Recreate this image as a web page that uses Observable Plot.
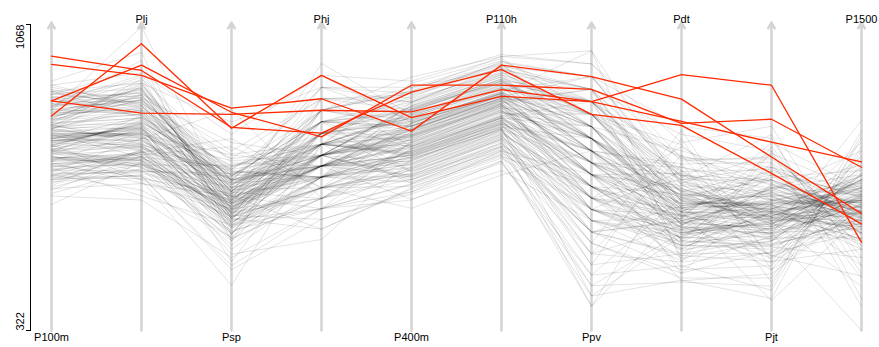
<!DOCTYPE html>
<html><head><meta charset="utf-8">
<script src="https://cdn.jsdelivr.net/npm/d3@7"></script>
<script src="https://cdn.jsdelivr.net/npm/@observablehq/plot@0.6"></script>
<style>body{margin:0;background:#fff} svg{display:block}</style>
</head><body><div id="chart"></div>
<script>
const events = ["P100m","Plj","Psp","Phj","P400m","P110h","Ppv","Pdt","Pjt","P1500"];
const topLabels = ["Plj","Phj","P110h","Pdt","P1500"];
const bottomLabels = ["P100m","Psp","P400m","Ppv","Pjt"];
const yTicks = [322, 1068];

// gray athletes (one array per event, same athlete order)
const P100m = [880,845,910,830,862,905,818,874,851,893,836,868,921,842,859,887,812,899,871,848,834,906,865,823,889,857,915,840,876,829,861,897,815,884,853,870,838,902,866,826,
795,812,768,803,781,824,756,799,787,772,810,793,765,829,784,801,776,815,762,790,806,773,797,819,759,788,808,779,796,770,816,785,752,802,791,774,821,763,798,783,
742,715,761,698,735,752,684,727,708,748,721,664,739,703,757,690,731,712,746,675,725,699,741,656,718,734,688,750,706,629,737,694,722,745,681,713,760,702,728,671,
810,760,890,700,845,775,920,735,800,860,690,825,770,905,745,815,650,880,790,728,868,755,835,710,898,780,822,668,850,792,740,875,806,720,930,765,838,696,855,785];
const Plj = [880,905,862,921,848,890,935,871,912,857,884,940,866,899,1062,852,918,877,926,863,895,840,908,886,931,859,874,915,846,897,883,960,868,902,855,889,924,872,910,850,
812,790,834,801,822,776,845,809,785,828,797,816,771,839,804,792,825,783,818,806,760,831,799,813,787,842,795,820,774,808,836,789,815,802,769,827,793,811,780,824,
752,731,768,714,745,776,702,739,760,688,726,748,771,709,735,757,681,743,722,764,696,738,755,717,650,741,729,763,706,733,751,692,746,720,758,711,737,664,744,727,
830,720,900,760,870,690,950,805,745,885,700,840,778,925,735,860,640,895,815,750,980,710,848,790,912,765,826,680,878,800,730,945,818,756,1000,725,856,698,890,772];
const Psp = [640,705,612,688,655,598,731,662,620,694,676,583,715,649,630,702,667,741,606,685,659,722,634,690,615,673,752,628,681,646,710,594,664,699,637,780,656,618,687,670,
652,618,687,575,641,703,598,662,629,715,584,648,677,606,659,736,622,690,571,655,632,698,610,666,643,724,589,671,636,603,683,650,557,692,624,660,708,595,645,678,
625,580,661,547,612,690,566,634,598,432,652,603,574,641,588,712,619,556,670,595,633,540,607,648,579,682,615,562,639,601,508,656,586,624,571,698,610,550,630,592,
700,560,760,520,680,600,800,545,720,640,470,690,580,830,615,740,500,660,595,770,540,705,625,860,575,715,490,650,605,750,530,685,620,790,555,725,610,480,670,635];
const Phj = [803,776,859,749,831,887,723,803,776,915,831,749,859,803,776,696,831,887,749,803,944,776,859,723,803,831,776,915,749,859,696,803,776,831,973,749,803,859,723,776,
749,723,776,696,803,749,670,776,723,831,749,696,776,803,644,749,723,859,696,776,749,723,803,670,776,749,831,696,723,776,749,619,803,723,749,887,696,776,723,749,
696,670,723,644,749,696,619,723,670,776,696,593,723,749,670,696,644,803,723,569,696,749,670,723,619,696,776,644,723,670,544,749,696,723,670,831,644,696,723,619,
831,696,887,670,776,723,944,644,803,749,593,859,696,915,723,776,619,831,749,670,887,723,803,644,859,749,776,569,831,723,696,915,749,670,859,776,723,619,803,749];
const P400m = [875,842,901,826,858,890,812,866,847,915,833,861,906,838,852,880,820,897,869,844,829,912,857,815,884,850,925,836,871,823,863,894,808,878,848,866,831,905,860,821,
798,811,772,806,785,821,760,797,791,768,815,789,758,832,780,803,774,818,755,794,809,770,799,826,748,786,812,777,800,764,820,783,741,805,793,771,828,752,796,781,
745,712,766,690,732,758,678,725,703,752,718,655,741,698,763,684,736,709,749,667,727,694,744,642,716,738,681,755,701,620,739,689,721,748,673,710,765,697,730,660,
820,745,880,690,850,770,930,720,810,870,660,835,760,900,735,812,640,888,795,715,860,750,828,700,915,775,842,670,855,788,728,878,800,705,940,755,845,680,862,780];
const P110h = [945,912,968,901,930,978,889,925,915,958,903,936,990,898,921,950,884,963,932,908,895,972,927,881,954,918,985,900,940,887,929,961,876,947,913,934,892,970,924,896,
872,888,845,880,859,898,832,870,864,841,889,866,829,905,853,878,847,893,825,868,883,840,874,900,818,861,886,850,876,836,895,857,812,881,869,844,902,826,873,855,
820,788,842,762,808,835,751,801,779,828,795,730,816,772,839,759,811,784,825,742,803,768,819,712,791,813,755,832,776,701,815,764,798,822,746,787,840,771,806,735,
900,830,960,780,925,860,995,810,890,940,760,910,845,975,825,895,735,950,870,800,930,835,905,790,980,855,915,750,935,875,815,965,885,795,990,840,920,770,945,865];
const Ppv = [880,849,910,819,790,941,849,880,760,910,819,880,972,790,849,910,731,880,819,941,849,790,880,910,819,760,849,1004,790,880,819,849,910,731,880,790,941,819,849,760,
790,731,760,819,702,790,673,760,849,731,790,645,760,702,819,731,790,617,760,673,731,819,702,760,790,590,731,849,673,760,702,790,731,645,760,880,702,731,617,790,
673,617,702,562,645,731,509,673,590,702,617,457,645,673,562,702,590,381,645,617,673,535,702,590,645,482,617,673,562,760,406,645,590,617,673,509,702,562,645,431,
819,617,910,562,760,702,972,535,790,849,457,880,645,941,590,731,406,849,673,509,910,617,790,482,880,702,760,381,819,645,562,941,731,535,1004,673,790,431,849,702];
const Pdt = [680,645,712,598,664,735,622,690,651,703,577,668,742,630,689,612,720,656,595,684,775,641,699,620,668,728,606,675,650,696,589,710,637,663,748,625,681,659,700,615,
618,585,652,560,631,679,547,604,640,572,626,690,556,612,645,583,662,530,620,598,567,638,705,590,610,549,655,627,575,600,668,541,633,594,612,579,648,522,603,636,
582,540,611,505,568,632,489,556,595,520,575,647,498,545,590,476,561,612,528,550,601,462,572,538,620,509,565,443,587,530,553,604,492,566,535,578,515,625,548,560,
760,520,800,470,720,590,780,450,690,640,480,740,560,820,530,700,445,660,610,750,500,710,580,790,540,675,460,730,600,770,510,695,620,810,490,655,570,440,745,585];
const Pjt = [640,702,598,668,615,745,630,688,582,655,720,609,676,637,592,710,662,624,780,651,587,695,640,671,605,732,618,660,689,575,646,714,629,600,684,658,753,612,670,635,
612,570,648,595,631,553,676,601,622,580,655,542,618,690,588,635,561,609,664,575,627,598,548,641,610,702,583,620,566,652,596,530,633,606,578,668,590,614,557,625,
575,528,602,490,560,618,512,585,545,630,498,566,540,608,470,552,587,395,571,534,596,515,560,640,503,548,582,460,569,526,590,541,612,487,558,530,574,505,551,597,
700,540,760,480,680,600,820,450,720,650,420,740,560,790,520,690,400,710,620,500,770,580,660,470,730,610,680,440,750,640,510,800,630,490,760,590,670,430,720,615];
const P1500 = [620,655,588,702,640,570,681,612,735,598,660,545,630,690,575,648,760,605,668,560,625,712,590,652,615,578,700,637,560,672,602,645,530,688,622,595,662,580,725,640,
645,610,682,575,630,720,598,655,560,690,622,584,668,605,745,635,570,650,612,700,590,628,548,675,640,603,662,520,690,615,580,655,634,598,780,610,645,568,627,670,
640,595,676,520,625,698,560,612,652,480,632,590,705,545,618,660,430,602,640,575,688,610,322,635,585,650,540,620,672,500,608,645,565,625,834,592,655,455,630,612,
560,700,520,740,600,680,480,760,620,540,790,580,720,460,650,610,800,530,670,705,500,690,575,730,450,640,595,770,555,660,715,400,635,750,380,685,590,810,545,665];

// highlighted athletes (values in event order)
const red1 = [845,1021,815,944,841,893,880,832,781,733];
const red2 = [882,852,849,859,855,909,880,946,920,537];
const red3 = [882,969,854,794,920,920,910,827,837,720];
const red4 = [991,956,817,803,903,958,849,822,705,582];
const red5 = [971,944,864,887,808,969,941,886,745,607];

const cols = {P100m,Plj,Psp,Phj,P400m,P110h,Ppv,Pdt,Pjt,P1500};
const grayData = [];
for (let i = 0; i < P100m.length; i++) {
  events.forEach(e => grayData.push({id: i, event: e, value: cols[e][i]}));
}
const redData = [];
[red1, red2, red3, red4, red5].forEach((r, k) => {
  events.forEach((e, j) => redData.push({id: k, event: e, value: r[j]}));
});

const chart = Plot.plot({
  width: 879,
  height: 347,
  marginLeft: 48,
  marginRight: 15,
  marginTop: 24,
  marginBottom: 17,
  style: {fontFamily: "'Liberation Sans', Arial, sans-serif", fontSize: "11px", background: "#fff"},
  x: {type: "point", domain: events, padding: 0, axis: null},
  y: {domain: [322, 1068], axis: null},
  marks: [
    Plot.arrow(events, {x1: d => d, x2: d => d, y1: () => 322, y2: () => 1068, stroke: "#d4d4d4", strokeWidth: 2.5, headLength: 4, insetEnd: -2}),
    Plot.line(grayData, {x: "event", y: "value", z: "id", stroke: "black", strokeOpacity: 0.14, strokeWidth: 0.8}),
    Plot.line(redData, {x: "event", y: "value", z: "id", stroke: "#ff2a00", strokeWidth: 1.3}),
    Plot.frame({anchor: "left", dx: -18, stroke: "black"}),
    Plot.axisY({ticks: yTicks, tickSize: 4, tickFormat: () => "", dx: -18, label: null}),
    Plot.text([yTicks[1]], {y: d => d, frameAnchor: "left", dx: -28, rotate: -90, textAnchor: "end", text: d => String(d), fill: "black"}),
    Plot.text([yTicks[0]], {y: d => d, frameAnchor: "left", dx: -28, rotate: -90, textAnchor: "start", text: d => String(d), fill: "black"}),
    Plot.text(topLabels, {x: d => d, frameAnchor: "top", dy: -9, text: d => d, fill: "black"}),
    Plot.text(bottomLabels, {x: d => d, frameAnchor: "bottom", dy: 10, text: d => d, fill: "black"})
  ]
});
document.getElementById("chart").appendChild(chart);
</script>
</body></html>
